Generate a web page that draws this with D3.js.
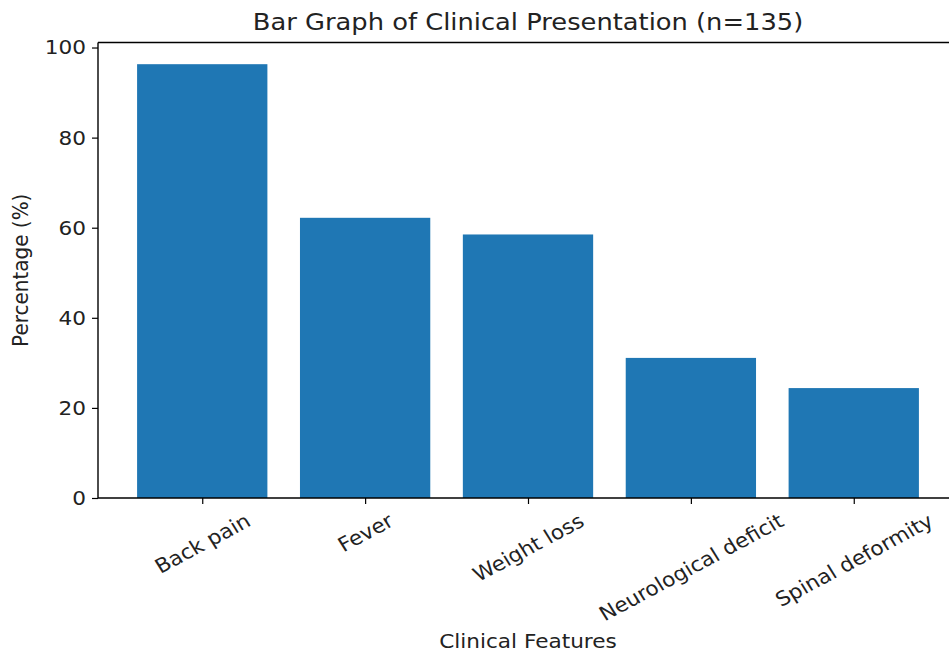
<!DOCTYPE html>
<html>
<head>
<meta charset="utf-8">
<script src="https://cdn.jsdelivr.net/npm/d3@7"></script>
<style>
  body { margin: 0; background: #fff; }
  text { font-family: "DejaVu Sans", sans-serif; fill: #222; }
</style>
</head>
<body>
<div id="chart"></div>
<script>
// data
const features = ["Back pain", "Fever", "Weight loss", "Neurological deficit", "Spinal deformity"];
const percents = [96.3, 62.2, 58.5, 31.1, 24.4];
const yTicks = [0, 20, 40, 60, 80, 100];

const W = 949, H = 652;
const margin = { top: 42.5, right: -9, bottom: 154, left: 98 };
const width = W - margin.left - margin.right;
const height = H - margin.top - margin.bottom;
const sx = 1.08; // the picture's text is a bit wider than tall

const svg = d3.select("#chart")
  .append("svg")
  .attr("width", W)
  .attr("height", H);

const g = svg.append("g")
  .attr("transform", `translate(${margin.left},${margin.top})`);

// matplotlib-like x limits around integer positions
const x = d3.scaleLinear()
  .domain([-0.64, features.length - 1 + 0.64])
  .range([0, width]);
const barW = 0.8;

const y = d3.scaleLinear()
  .domain([0, d3.max(percents) * 1.05])
  .range([height, 0]);

// bars
g.selectAll("rect.bar")
  .data(percents)
  .join("rect")
  .attr("class", "bar")
  .attr("x", (d, i) => x(i - barW / 2))
  .attr("width", (d, i) => x(i + barW / 2) - x(i - barW / 2))
  .attr("y", d => y(d))
  .attr("height", d => y(0) - y(d))
  .attr("fill", "#1f77b4");

const fs = 20;

// y axis
const yAxis = g.append("g")
  .call(d3.axisLeft(y).tickValues(yTicks).tickSize(6).tickPadding(0));
yAxis.select(".domain").remove();
yAxis.selectAll(".tick line").attr("stroke", "#000").attr("stroke-width", 1.2);
yAxis.selectAll(".tick text")
  .attr("x", null)
  .attr("transform", `translate(-12,0) scale(${sx},1)`)
  .style("font-size", fs + "px")
  .attr("fill", "#222");

// x axis ticks (labels handled separately for rotation)
const xAxis = g.append("g")
  .attr("transform", `translate(0,${height})`)
  .call(d3.axisBottom(x).tickValues(d3.range(features.length)).tickSize(6).tickFormat(""));
xAxis.select(".domain").remove();
xAxis.selectAll(".tick line").attr("stroke", "#000").attr("stroke-width", 1.2);

// rotated labels, centred like matplotlib rotation=30
const lbl = xAxis.selectAll(".tick")
  .append("text")
  .text((d) => features[d])
  .attr("text-anchor", "middle")
  .attr("dominant-baseline", "central")
  .style("font-size", fs + "px")
  .attr("fill", "#222");
lbl.each(function () {
  const w = this.getComputedTextLength();
  const hh = fs * 1.17;
  const boxH = w * Math.sin(Math.PI / 6) + hh * Math.cos(Math.PI / 6);
  d3.select(this).attr("transform", `translate(0,${11 + boxH / 2}) scale(${sx},1) rotate(-30)`);
});

// spines
const sp = g.append("g").attr("stroke", "#000").attr("stroke-width", 1.4);
sp.append("line").attr("x1", 0).attr("x2", 0).attr("y1", 0).attr("y2", height);
sp.append("line").attr("x1", 0).attr("x2", width).attr("y1", height).attr("y2", height);
sp.append("line").attr("x1", 0).attr("x2", width).attr("y1", 0).attr("y2", 0);
sp.append("line").attr("x1", width).attr("x2", width).attr("y1", 0).attr("y2", height);

// title and axis labels
svg.append("text")
  .attr("transform", `translate(${margin.left + width / 2},30) scale(1.12,1)`)
  .attr("text-anchor", "middle")
  .style("font-size", "23px")
  .text("Bar Graph of Clinical Presentation (n=135)");

svg.append("text")
  .attr("transform", `translate(${margin.left + width / 2},648) scale(${sx},1)`)
  .attr("text-anchor", "middle")
  .style("font-size", fs + "px")
  .text("Clinical Features");

svg.append("text")
  .attr("transform", `translate(28,${margin.top + height / 2}) scale(${sx},1) rotate(-90)`)
  .attr("text-anchor", "middle")
  .style("font-size", fs + "px")
  .text("Percentage (%)");
</script>
</body>
</html>
